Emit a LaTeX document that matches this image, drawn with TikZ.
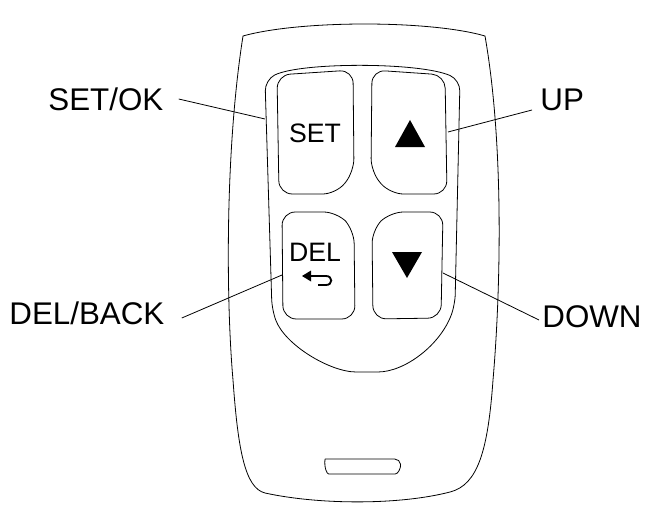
\documentclass[tikz,border=0pt]{standalone}
\usepackage{fontspec}
\setmainfont{Liberation Sans}
\begin{document}
\begin{tikzpicture}[x=0.75pt,y=-0.75pt,line width=0.6pt,
  lbl/.style={font=\fontsize{23.5}{25}\selectfont,inner sep=0pt},
  btxt/.style={font=\fontsize{20}{22}\selectfont,inner sep=0pt},
  ln/.style={line width=0.6pt}]
\useasboundingbox (0,0) rectangle (657,517);
% body
\draw (243,36) .. controls (300,20) and (430,20) .. (485,36)
  .. controls (505,150) and (500,300) .. (493,380)
  .. controls (488,450) and (478,485) .. (450,492)
  .. controls (400,505) and (320,505) .. (265,493)
  .. controls (245,488) and (238,450) .. (233,380)
  .. controls (226,300) and (225,150) .. (243,36) -- cycle;
% inner panel
\draw[rounded corners=8] (265,80) .. controls (300,62) and (420,62) .. (460,80)
  -- (455,305) .. controls (440,345) and (405,372) .. (367,372)
  .. controls (330,372) and (285,345) .. (272,310) -- cycle;
% buttons
\draw[rounded corners=10] (277,75) -- (353,70) -- (354,172) -- (336,194) -- (279,194) -- cycle;
\draw[rounded corners=10] (372,70) -- (445,75) -- (447,194) -- (390,194) -- (371,172) -- cycle;
\draw[rounded corners=10] (282,212) -- (337,212) -- (354,230) -- (355,319) -- (283,319) -- cycle;
\draw[rounded corners=10] (390,212) -- (443,212) -- (441,318) -- (373,319) -- (372,230) -- cycle;
% button contents
\node[btxt] (set) at (315,133) {SET};
\node[btxt] (del) at (315,252) {DEL};
\fill (395,147) -- (425,147) -- (410,120) -- cycle;
\fill (392,252) -- (422,252) -- (407,278) -- cycle;
\draw[line width=1.4pt] (310,276) -- (326,276) .. controls (333,276) and (333,285) .. (326,285) -- (318,285);
\fill (302,276) -- (311,270.5) -- (311,281.5) -- cycle;
% slot
\draw[rounded corners=4] (325,459) -- (400,459) .. controls (401,468) and (398,474) .. (390,474) -- (334,474) .. controls (327,474) and (324,468) .. (325,459);
% labels
\node[lbl,anchor=west] (setok) at (48,99) {SET/OK};
\node[lbl,anchor=west] (up) at (540,100) {UP};
\node[lbl,anchor=west] (delb) at (9,313) {DEL/BACK};
\node[lbl,anchor=west] (down) at (542,317) {DOWN};
\coordinate (c1) at (265,119);
\coordinate (c2) at (448,132);
\coordinate (c3) at (282,275);
\coordinate (c4) at (443,273);
\draw[ln] (setok.east) ++(15,0) -- (c1);
\draw[ln] (up.west) ++(-8,10) -- (c2);
\draw[ln] (delb.east) ++(17,5) -- (c3);
\draw[ln] (down.west) ++(-3,3) -- (c4);
\end{tikzpicture}
\end{document}
